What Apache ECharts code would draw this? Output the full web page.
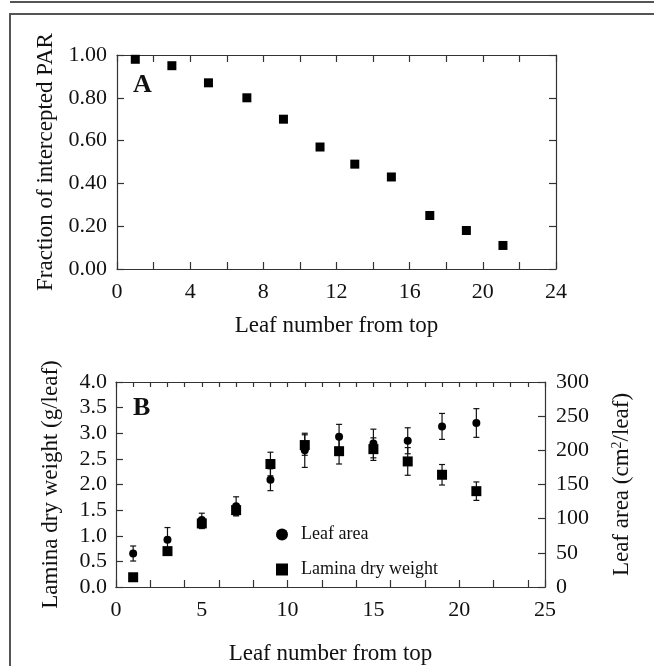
<!DOCTYPE html>
<html><head><meta charset="utf-8">
<script src="https://cdn.jsdelivr.net/npm/echarts@6/dist/echarts.min.js"></script>
<style>html,body{margin:0;padding:0;background:#fff}#c{width:654px;height:666px}</style>
</head><body><div id="c"></div>
<script>
// ---- Panel A data ----
const parLeafNo = [1, 3, 5, 7.1, 9.1, 11.1, 13, 15, 17.1, 19.1, 21.1];
const parFraction = [0.98, 0.95, 0.87, 0.80, 0.70, 0.57, 0.49, 0.43, 0.25, 0.18, 0.11];
const xTicksA = [0, 4, 8, 12, 16, 20, 24];
const yTicksA = [0.00, 0.20, 0.40, 0.60, 0.80, 1.00];

// ---- Panel B data ----
const leafNoB = [1, 3, 5, 7, 9, 11, 13, 15, 17, 19, 21];
const leafArea = [49, 69, 98, 118, 157, 200, 220, 210, 214, 235, 240];
const leafAreaErr = [11, 18, 10, 14, 16, 25, 18, 21, 19, 19, 21];
const laminaDW = [0.19, 0.70, 1.24, 1.50, 2.40, 2.77, 2.65, 2.69, 2.45, 2.19, 1.87];
const laminaErr = [0, 0, 0.1, 0.1, 0.23, 0.2, 0.25, 0.22, 0.27, 0.2, 0.18];
const xTicksB = [0, 5, 10, 15, 20, 25];
const yTicksBLeft = [0.0, 0.5, 1.0, 1.5, 2.0, 2.5, 3.0, 3.5, 4.0];
const yTicksBRight = [0, 50, 100, 150, 200, 250, 300];

const FONT = 'Liberation Serif';
const AX = '#333';
const txt = { fontFamily: FONT, fontSize: 22, color: '#111' };
const nameTxt = { fontFamily: FONT, fontSize: 23, color: '#111' };

function errRender(params, api) {
  const x = api.value(0), lo = api.value(1), hi = api.value(2);
  const p1 = api.coord([x, hi]), p2 = api.coord([x, lo]);
  const w = 3;
  const st = { stroke: '#111', lineWidth: 1.2 };
  return { type: 'group', children: [
    { type: 'line', shape: { x1: p1[0], y1: p1[1], x2: p2[0], y2: p2[1] }, style: st },
    { type: 'line', shape: { x1: p1[0] - w, y1: p1[1], x2: p1[0] + w, y2: p1[1] }, style: st },
    { type: 'line', shape: { x1: p2[0] - w, y1: p2[1], x2: p2[0] + w, y2: p2[1] }, style: st }
  ]};
}
function errData(xs, ys, es) {
  const out = [];
  xs.forEach((x, i) => { if (es[i] > 0) out.push([x, ys[i] - es[i], ys[i] + es[i]]); });
  return out;
}
function line(extra) {
  return Object.assign({ axisLine: { show: true, onZero: false, lineStyle: { color: AX, width: 1.2 } }, splitLine: { show: false } }, extra);
}
const tickIn = { show: true, inside: true, length: 7, lineStyle: { color: AX, width: 1.2 } };
const tickInShort = { show: true, inside: true, length: 5, lineStyle: { color: AX, width: 1.2 } };
const mark = { color: '#000', opacity: 1 };

const chart = echarts.init(document.getElementById('c'), null, { renderer: 'canvas' });
chart.setOption({
  backgroundColor: '#fff',
  animation: false,
  textStyle: { fontFamily: FONT },
  grid: [
    { left: 117, top: 55, width: 439, height: 214, outerBoundsMode: 'none' },
    { left: 116, top: 382, width: 429, height: 205, outerBoundsMode: 'none' }
  ],
  graphic: [
    { type: 'line', shape: { x1: 10, y1: 2, x2: 654, y2: 2 }, style: { stroke: '#555', lineWidth: 2 } },
    { type: 'polyline', shape: { points: [[10, 666], [10, 14], [654, 14]] }, style: { stroke: '#555', lineWidth: 2, fill: null } },
    { type: 'text', x: 133, y: 72, style: { text: 'A', font: 'bold 26px "Liberation Serif"', fill: '#111' } },
    { type: 'text', x: 133, y: 395, style: { text: 'B', font: 'bold 26px "Liberation Serif"', fill: '#111' } }
  ],
  legend: {
    data: [{ name: 'Leaf area', icon: 'circle' }, { name: 'Lamina dry weight', icon: 'rect' }],
    orient: 'vertical', left: 271, top: 518, itemWidth: 12, itemHeight: 12, itemGap: 12,
    itemStyle: { opacity: 1, color: '#000' },
    textStyle: { fontFamily: FONT, fontSize: 18, color: '#111', padding: [4, 0, 0, 8], lineHeight: 19 }
  },
  xAxis: [
    line({ gridIndex: 0, type: 'value', position: 'bottom', min: xTicksA[0], max: xTicksA[xTicksA.length - 1], interval: 2,
      axisTick: tickIn, axisLabel: Object.assign({ margin: 12, formatter: v => xTicksA.includes(v) ? String(v) : '' }, txt),
      name: 'Leaf number from top', nameLocation: 'middle', nameGap: 45, nameTextStyle: nameTxt }),
    line({ gridIndex: 0, type: 'value', position: 'top', min: 0, max: 24, interval: 2, axisTick: tickIn, axisLabel: { show: false } }),
    line({ gridIndex: 1, type: 'value', position: 'bottom', min: xTicksB[0], max: xTicksB[xTicksB.length - 1], interval: 5,
      axisTick: { show: false }, axisLabel: Object.assign({ margin: 12 }, txt),
      name: 'Leaf number from top', nameLocation: 'middle', nameGap: 55, nameTextStyle: nameTxt }),
    line({ gridIndex: 1, type: 'value', position: 'bottom', min: 0, max: 25, interval: 2, axisTick: tickIn, axisLabel: { show: false } }),
    line({ gridIndex: 1, type: 'value', position: 'top', min: 0, max: 25, interval: 1, axisTick: tickInShort, axisLabel: { show: false } })
  ],
  yAxis: [
    line({ gridIndex: 0, type: 'value', position: 'left', min: yTicksA[0], max: yTicksA[yTicksA.length - 1], interval: 0.2,
      axisTick: tickIn, axisLabel: Object.assign({ margin: 10, formatter: v => v.toFixed(2) }, txt),
      name: 'Fraction of intercepted PAR', nameLocation: 'middle', nameRotate: 90, nameGap: 60, nameTextStyle: nameTxt }),
    line({ gridIndex: 0, type: 'value', position: 'right', min: 0, max: 1, interval: 0.2, axisTick: tickIn, axisLabel: { show: false } }),
    line({ gridIndex: 1, type: 'value', position: 'left', min: yTicksBLeft[0], max: yTicksBLeft[yTicksBLeft.length - 1], interval: 0.5,
      axisTick: tickIn, axisLabel: Object.assign({ margin: 9, formatter: v => v.toFixed(1) }, txt),
      name: 'Lamina dry weight (g/leaf)', nameLocation: 'middle', nameRotate: 90, nameGap: 54, nameTextStyle: nameTxt }),
    line({ gridIndex: 1, type: 'value', position: 'right', min: yTicksBRight[0], max: yTicksBRight[yTicksBRight.length - 1], interval: 50,
      axisTick: tickIn, axisLabel: Object.assign({ margin: 11 }, txt),
      name: '{a|Leaf area (cm}{s|2}{a|/leaf)}', nameLocation: 'middle', nameRotate: 90, nameGap: 65,
      nameTextStyle: { rich: { a: { fontFamily: FONT, fontSize: 23, color: '#111' }, s: { fontFamily: FONT, fontSize: 14, color: '#111', verticalAlign: 'top' } } } })
  ],
  series: [
    { type: 'scatter', name: 'PAR', xAxisIndex: 0, yAxisIndex: 0, symbol: 'rect', symbolSize: 9,
      itemStyle: mark, data: parLeafNo.map((x, i) => [x, parFraction[i]]) },
    { type: 'custom', name: 'errArea', xAxisIndex: 2, yAxisIndex: 3, renderItem: errRender, encode: { x: 0, y: [1, 2] },
      data: errData(leafNoB, leafArea, leafAreaErr), z: 1 },
    { type: 'custom', name: 'errDW', xAxisIndex: 2, yAxisIndex: 2, renderItem: errRender, encode: { x: 0, y: [1, 2] },
      data: errData(leafNoB, laminaDW, laminaErr), z: 1 },
    { type: 'scatter', name: 'Leaf area', xAxisIndex: 2, yAxisIndex: 3, symbol: 'circle', symbolSize: 8,
      itemStyle: mark, data: leafNoB.map((x, i) => [x, leafArea[i]]), z: 3 },
    { type: 'scatter', name: 'Lamina dry weight', xAxisIndex: 2, yAxisIndex: 2, symbol: 'rect', symbolSize: 10,
      itemStyle: mark, data: leafNoB.map((x, i) => [x, laminaDW[i]]), z: 3 }
  ]
});
</script>
</body></html>
